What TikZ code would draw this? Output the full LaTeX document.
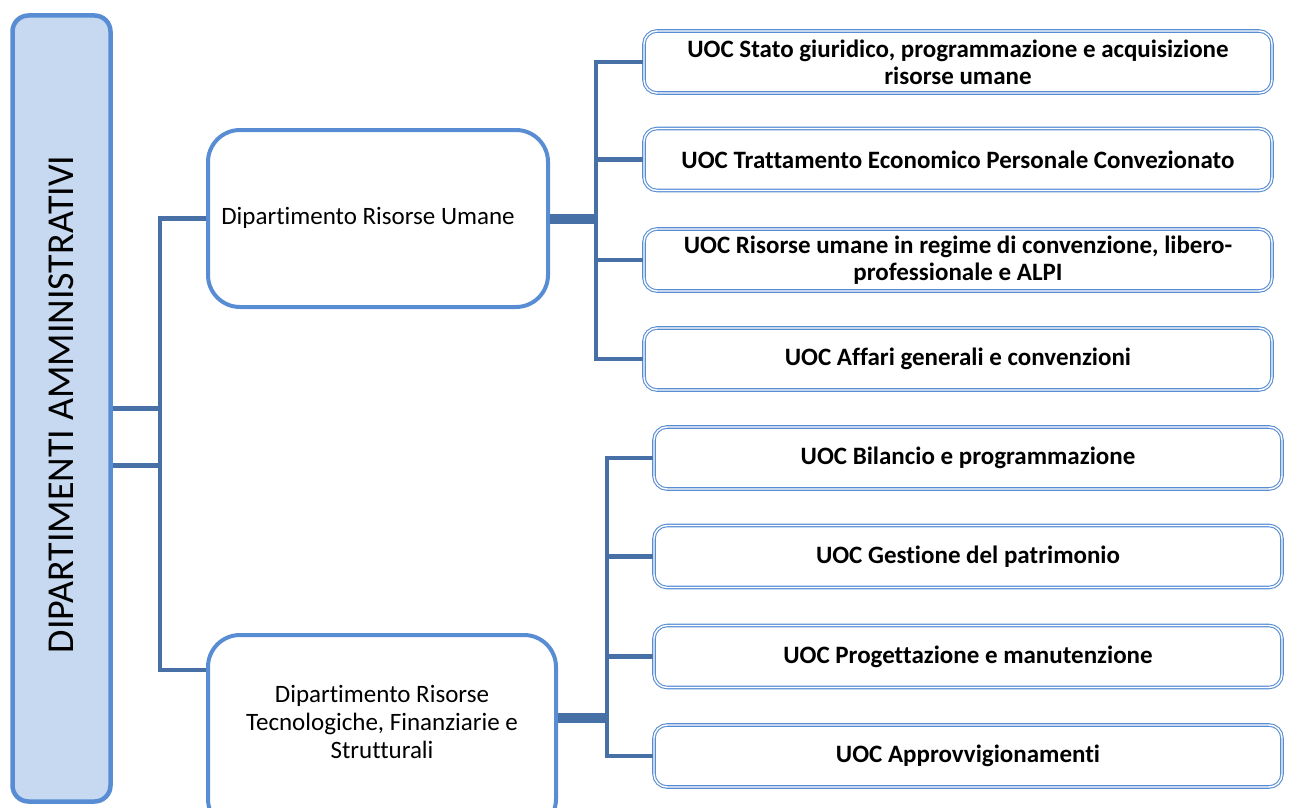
\documentclass[tikz,border=0pt]{standalone}
\usepackage{fontspec}
\setmainfont{Carlito}[Ligatures=NoCommon]
\usetikzlibrary{calc}
\definecolor{boxblue}{RGB}{88,141,212}
\definecolor{boxfill}{RGB}{198,217,241}
\definecolor{linkblue}{RGB}{70,112,166}
\tikzset{
  rootbox/.style={draw=boxblue, fill=boxfill, line width=4.5pt, rounded corners=16pt,
    minimum width=98pt, minimum height=786pt, inner sep=0pt},
  deptbox/.style={draw=boxblue, fill=white, line width=4pt, rounded corners=32pt,
    inner sep=0pt},
  depttext/.style={align=center, inner sep=0pt, font=\fontsize{25}{28}\selectfont},
  uocbox/.style={draw=boxblue, double=white, double distance=1.4pt, line width=1.1pt,
    rounded corners=13pt, minimum width=628pt, minimum height=62pt, inner sep=0pt,
    align=center, font=\bfseries\fontsize{25}{27}\selectfont},
  link/.style={draw=linkblue, line width=4.5pt},
  trunk/.style={draw=linkblue, line width=10pt},
}
\begin{document}
\begin{tikzpicture}[x=1pt, y=-1pt]
\useasboundingbox (0,0) rectangle (1291,808);

% root column
\node[rootbox] (root) at (61.5,408.5) {};
\node[rotate=90, font=\fontsize{38}{40}\selectfont] (roottxt) at ($(root.center)+(0,-4)$) {DIPARTIMENTI AMMINISTRATIVI};

% departments
\node[deptbox, minimum width=340pt, minimum height=177pt] (d1) at (378,218.5) {};
\node[depttext] (d1txt) at (368,218) {Dipartimento Risorse Umane};
\node[deptbox, minimum width=348pt, minimum height=196pt] (d2) at (382,733) {};
\node[depttext] (d2txt) at (382,722) {Dipartimento Risorse\\Tecnologiche, Finanziarie e\\Strutturali};

% units of the first department
\node[uocbox] (u1) at (958,62) {UOC Stato giuridico, programmazione e acquisizione\\risorse umane};
\node[uocbox] (u2) at (958,159.5) {UOC Trattamento Economico Personale Convezionato};
\node[uocbox] (u3) at (958,260) {UOC Risorse umane in regime di convenzione, libero-\\professionale e ALPI};
\node[uocbox] (u4) at (958,359) {UOC Affari generali e convenzioni};

% units of the second department
\node[uocbox] (v1) at (968,458) {UOC Bilancio e programmazione};
\node[uocbox] (v2) at (968,556.5) {UOC Gestione del patrimonio};
\node[uocbox] (v3) at (968,656.5) {UOC Progettazione e manutenzione};
\node[uocbox] (v4) at (968,756) {UOC Approvvigionamenti};

% bus from the root column to the departments
\coordinate (rbus) at (160,0);
\coordinate (d2in) at ($(d2.west)+(0,-63)$);
\draw[link] (root.east) -- (root.east -| rbus);
\draw[link] ($(root.east)+(0,57)$) -- ($(root.east -| rbus)+(0,57)$);
\draw[link, line join=miter] (d1.west) -- (d1.west -| rbus) -- (rbus |- d2in) -- (d2in);

% first department to its units
\coordinate (abus) at (596,0);
\draw[trunk] (d1.east) -- (d1.east -| abus);
\draw[link, line join=miter] (u1.west) -- (u1.west -| abus) -- (abus |- u4.west) -- (u4.west);
\draw[link] (u2.west -| abus) -- (u2.west);
\draw[link] (u3.west -| abus) -- (u3.west);

% second department to its units
\coordinate (bbus) at (607,0);
\draw[trunk] ($(d2.east)+(0,-15)$) -- ($(d2.east -| bbus)+(0,-15)$);
\draw[link, line join=miter] (v1.west) -- (v1.west -| bbus) -- (bbus |- v4.west) -- (v4.west);
\draw[link] (v2.west -| bbus) -- (v2.west);
\draw[link] (v3.west -| bbus) -- (v3.west);
\end{tikzpicture}
\end{document}
